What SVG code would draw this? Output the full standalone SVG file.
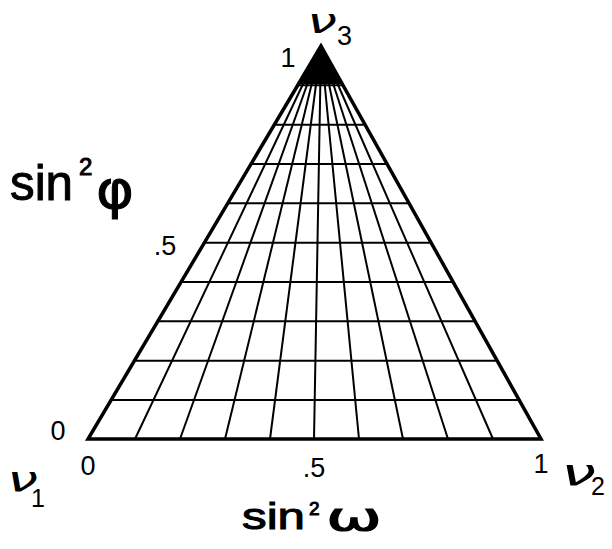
<svg xmlns="http://www.w3.org/2000/svg" width="612" height="549" viewBox="0 0 612 549">
<style>
.edge{stroke:#000;stroke-width:3.5;fill:none;stroke-linejoin:miter;stroke-linecap:round}
.grid{stroke:#000;stroke-width:2;fill:none}
.num{font-family:"Liberation Sans",Arial,sans-serif;font-size:27px;fill:#000}
.lbl{font-family:"Liberation Sans",Arial,sans-serif;fill:#000;stroke:#000;stroke-width:1}
.gr{font-family:"DejaVu Sans",sans-serif;fill:#000}
</style>
<rect width="612" height="549" fill="#fff"/>
<g id="connectors">
  <g id="rays" class="grid">
    <line x1="321" y1="46" x2="135" y2="439"/>
    <line x1="321" y1="46" x2="180" y2="439"/>
    <line x1="321" y1="46" x2="225" y2="439"/>
    <line x1="321" y1="46" x2="270" y2="439"/>
    <line x1="321" y1="46" x2="314" y2="439"/>
    <line x1="321" y1="46" x2="359" y2="439"/>
    <line x1="321" y1="46" x2="403" y2="439"/>
    <line x1="321" y1="46" x2="448" y2="439"/>
    <line x1="321" y1="46" x2="493" y2="439"/>
  </g>
  <g id="levels" class="grid">
    <line x1="111.3" y1="400" x2="519" y2="400"/>
    <line x1="134.6" y1="360.7" x2="497" y2="360.7"/>
    <line x1="157.9" y1="321.3" x2="475" y2="321.3"/>
    <line x1="181.2" y1="282" x2="453" y2="282"/>
    <line x1="204.5" y1="242.7" x2="431" y2="242.7"/>
    <line x1="227.8" y1="203.3" x2="409" y2="203.3"/>
    <line x1="251.1" y1="164" x2="387" y2="164"/>
    <line x1="274.4" y1="124.7" x2="365" y2="124.7"/>
    <line x1="297.7" y1="85.3" x2="343" y2="85.3"/>
  </g>
  <polygon id="apex-fill" points="321,46 298.5,84 342.3,84" fill="#000"/>
</g>
<g id="triangle">
  <polygon class="edge" points="321,46 88,439 541,439"/>
</g>
<g id="axis-labels">
  <text class="num" x="288" y="67" text-anchor="middle">1</text>
  <text class="num" x="165" y="255" text-anchor="middle">.5</text>
  <text class="num" x="58" y="440" text-anchor="middle">0</text>
  <text class="num" x="88" y="475" text-anchor="middle">0</text>
  <text class="num" x="314" y="477" text-anchor="middle">.5</text>
  <text class="num" x="541" y="473" text-anchor="middle">1</text>
</g>
<g id="title-phi">
  <text class="lbl" x="10" y="200" font-size="50" textLength="63" lengthAdjust="spacingAndGlyphs">sin</text>
  <text class="lbl" x="79" y="175" font-size="24">2</text>
  <text class="gr" x="96" y="208" font-size="54" textLength="38" lengthAdjust="spacingAndGlyphs" stroke="#000" stroke-width="1">φ</text>
</g>
<g id="title-omega">
  <text class="lbl" x="242" y="529" font-size="36" textLength="63" lengthAdjust="spacingAndGlyphs">sin</text>
  <text class="lbl" x="309" y="515" font-size="19">2</text>
  <text class="gr" x="326" y="530" font-size="38" textLength="56" lengthAdjust="spacingAndGlyphs" stroke="#000" stroke-width="1">ω</text>
</g>
<g id="nu3">
  <text class="gr" x="307" y="33" font-size="34" font-style="italic" textLength="30" lengthAdjust="spacingAndGlyphs">ν</text>
  <text class="num" x="337" y="45" font-size="28">3</text>
</g>
<g id="nu2">
  <text class="gr" x="561" y="485" font-size="38" font-style="italic" textLength="35" lengthAdjust="spacingAndGlyphs">ν</text>
  <text class="num" x="591" y="495" style="font-size:25px">2</text>
</g>
<g id="nu1">
  <text class="gr" x="7" y="492" font-size="36" font-style="italic" textLength="31" lengthAdjust="spacingAndGlyphs">ν</text>
  <text class="num" x="31" y="507" style="font-size:25px">1</text>
</g>
</svg>
